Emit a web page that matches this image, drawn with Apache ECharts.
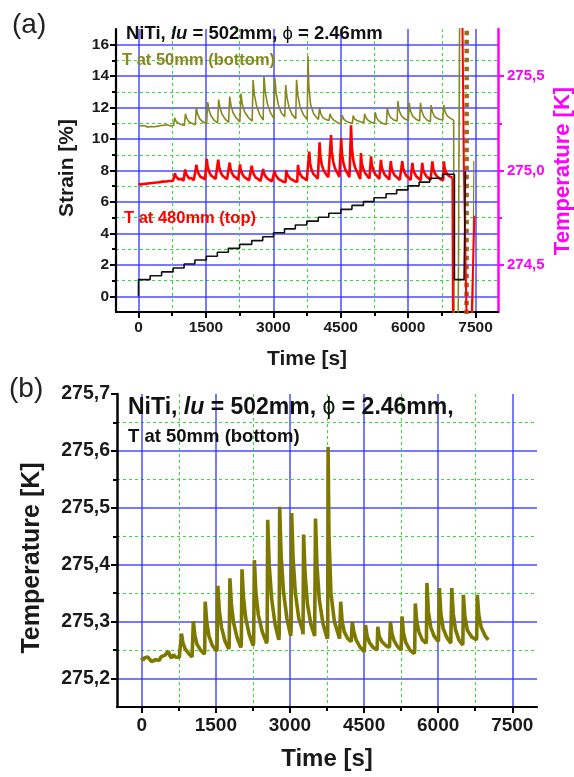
<!DOCTYPE html>
<html>
<head>
<meta charset="utf-8">
<script src="https://cdn.jsdelivr.net/npm/echarts@6/dist/echarts.min.js"></script>
<style>
html,body{margin:0;padding:0;background:#fff;}
#chart{width:574px;height:777px;}
</style>
</head>
<body>
<div id="chart"></div>
<script>
// ---- axis ticks ----
const timeTicks = [0, 1500, 3000, 4500, 6000, 7500];
const timeMinorTicks = [750, 2250, 3750, 5250, 6750];
const strainTicks = [0, 2, 4, 6, 8, 10, 12, 14, 16];
const strainMinorTicks = [1, 3, 5, 7, 9, 11, 13, 15];
const tempTicksA = [274.5, 275.0, 275.5];
const tempMinorTicksA = [274.75, 275.25];
const tempTicksB = [275.2, 275.3, 275.4, 275.5, 275.6, 275.7];
const tempGridB = [275.2, 275.3, 275.4, 275.5, 275.6];
const tempMinorTicksB = [275.25, 275.35, 275.45, 275.55, 275.65];

// ---- strain staircase (time [s], strain [%]) ----
const stepTimes = [0, 0, 260, 515, 770, 1015, 1255, 1510, 1755, 2000, 2250, 2520, 2765, 3005, 3250,
  3490, 3745, 4000, 4235, 4505, 4750, 5005, 5240, 5510, 5745, 5995, 6245, 6480, 6765, 7030];
const stepStrain = [0, 1.06, 1.31, 1.55, 1.80, 2.05, 2.31, 2.55, 2.80, 3.05, 3.30, 3.54, 3.79, 4.04, 4.29,
  4.53, 4.78, 5.03, 5.28, 5.53, 5.78, 6.02, 6.27, 6.52, 6.77, 7.02, 7.26, 7.51, 7.76, 7.76];
const strainTail = [[7030, 7.76], [7030, 1.06], [7245, 1.06], [7275, 7.95]];

// ---- temperature at 50 mm (bottom) [s, K] ----
const tBottom = [
  [0,275.237],[25,275.232],[55,275.236],[90,275.233],[120,275.238],[160,275.234],[200,275.230],[240,275.229],
  [280,275.233],[320,275.236],[355,275.232],[390,275.238],[430,275.235],[470,275.241],[505,275.239],[540,275.248],
  [570,275.240],[605,275.236],[640,275.242],[680,275.238],[720,275.236],[760,275.237],
  [785,275.240],[805,275.279],[835,275.262],[880,275.252],[950,275.244],[1020,275.238],
  [1030,275.241],[1045,275.301],[1075,275.276],[1120,275.260],[1190,275.250],[1265,275.243],
  [1275,275.248],[1285,275.335],[1315,275.300],[1360,275.275],[1430,275.258],[1515,275.248],
  [1525,275.252],[1540,275.363],[1570,275.320],[1615,275.290],[1685,275.266],[1760,275.252],
  [1770,275.256],[1785,275.376],[1815,275.330],[1860,275.298],[1930,275.272],[2005,275.255],
  [2015,275.259],[2030,275.392],[2060,275.342],[2105,275.306],[2175,275.278],[2255,275.258],
  [2265,275.263],[2280,275.408],[2310,275.352],[2360,275.312],[2440,275.282],[2530,275.262],
  [2538,275.268],[2550,275.479],[2580,275.400],[2630,275.340],[2700,275.295],[2775,275.268],
  [2782,275.275],[2792,275.502],[2822,275.415],[2870,275.352],[2940,275.305],[3015,275.275],
  [3024,275.285],[3034,275.491],[3064,275.410],[3110,275.350],[3180,275.305],[3255,275.285],
  [3265,275.278],[3276,275.453],[3306,275.385],[3355,275.330],[3425,275.295],[3500,275.275],
  [3507,275.272],[3517,275.481],[3547,275.398],[3595,275.338],[3670,275.296],[3755,275.270],
  [3764,275.275],[3772,275.607],[3790,275.450],[3830,275.350],[3900,275.300],[4005,275.270],
  [4015,275.270],[4027,275.335],[4057,275.300],[4100,275.282],[4170,275.270],[4240,275.265],
  [4250,275.266],[4262,275.300],[4292,275.282],[4340,275.268],[4420,275.255],[4505,275.247],
  [4515,275.250],[4530,275.294],[4560,275.275],[4610,275.263],[4690,275.254],[4760,275.250],
  [4765,275.254],[4778,275.291],[4808,275.274],[4860,275.265],[4940,275.258],[5015,275.255],
  [5022,275.257],[5034,275.300],[5064,275.279],[5110,275.266],[5180,275.256],[5250,275.250],
  [5258,275.252],[5268,275.309],[5298,275.280],[5345,275.263],[5430,275.250],[5515,275.244],
  [5525,275.250],[5537,275.332],[5567,275.300],[5610,275.282],[5680,275.268],[5755,275.262],
  [5762,275.266],[5772,275.368],[5802,275.318],[5850,275.290],[5920,275.274],[6005,275.265],
  [6013,275.268],[6024,275.359],[6054,275.315],[6100,275.288],[6175,275.272],[6255,275.262],
  [6263,275.265],[6275,275.359],[6305,275.314],[6350,275.286],[6420,275.268],[6495,275.259],
  [6500,275.263],[6510,275.347],[6540,275.310],[6590,275.285],[6680,275.273],[6770,275.268],
  [6780,275.272],[6792,275.347],[6822,275.312],[6870,275.290],[6950,275.275],[7013,275.268]
];
const tBottomDrop = [[7013,275.268],[7025,274.0]];
const tBottomRise = [[7110,274.0],[7150,276.0]];
const tBottomBand = [[7300,274.0],[7304,276.0]];
const tBottomLast = [[7440,274.2],[7462,275.05]];

// ---- temperature at 480 mm (top) [s, K] ----
const tTop = [
  [0,274.930],[25,274.936],[50,274.926],[80,274.933],[110,274.928],[140,274.936],[175,274.930],[210,274.938],
  [245,274.932],[280,274.940],[315,274.934],[350,274.941],[390,274.936],[425,274.944],[460,274.938],[500,274.946],
  [535,274.941],[570,274.948],[610,274.942],[650,274.950],[690,274.944],[730,274.951],[770,274.946],
  [795,274.948],[813,274.985],[830,274.968],[860,274.962],[900,274.952],[950,274.956],[1000,274.946],[1025,274.949],
  [1040,275.005],[1058,274.982],[1090,274.970],[1130,274.958],[1180,274.960],[1230,274.948],[1270,274.951],
  [1290,275.030],[1308,275.000],[1340,274.982],[1380,274.966],[1430,274.962],[1480,274.952],[1505,274.955],
  [1520,275.062],[1538,275.022],[1570,274.995],[1610,274.975],[1660,274.966],[1715,274.955],[1758,274.952],
  [1775,275.058],[1793,275.020],[1825,274.993],[1865,274.974],[1915,274.964],[1970,274.954],[2012,274.950],
  [2030,275.042],[2048,275.010],[2080,274.986],[2120,274.970],[2170,274.962],[2220,274.951],[2245,274.948],
  [2260,275.032],[2278,275.002],[2310,274.982],[2350,274.966],[2400,274.958],[2460,274.948],[2502,274.945],
  [2520,275.025],[2538,274.996],[2570,274.978],[2610,274.962],[2660,274.955],[2715,274.944],[2758,274.942],
  [2775,275.008],[2793,274.985],[2825,274.970],[2865,274.958],[2915,274.950],[2970,274.942],[3012,274.940],
  [3030,274.998],[3048,274.978],[3080,274.966],[3120,274.954],[3170,274.948],[3225,274.940],[3272,274.938],
  [3290,275.002],[3308,274.980],[3340,274.968],[3380,274.956],[3430,274.950],[3485,274.942],[3532,274.940],
  [3550,275.030],[3568,274.998],[3600,274.980],[3640,274.965],[3690,274.958],[3745,274.948],[3785,274.945],
  [3800,275.100],[3818,275.040],[3850,275.005],[3890,274.982],[3940,274.970],[3990,274.956],[4015,274.950],
  [4030,275.150],[4048,275.075],[4080,275.030],[4120,275.000],[4170,274.982],[4225,274.965],[4268,274.955],
  [4285,275.188],[4303,275.100],[4335,275.045],[4375,275.010],[4425,274.988],[4470,274.966],[4495,274.958],
  [4510,275.170],[4528,275.090],[4560,275.040],[4600,275.006],[4650,274.985],[4695,274.965],[4715,274.956],
  [4730,275.240],[4748,275.120],[4780,275.055],[4820,275.015],[4870,274.990],[4915,274.966],[4935,274.955],
  [4950,275.092],[4968,275.040],[5000,275.010],[5040,274.988],[5090,274.972],[5140,274.958],[5160,274.950],
  [5175,275.075],[5193,275.030],[5225,275.002],[5265,274.982],[5315,274.968],[5360,274.955],[5380,274.948],
  [5395,275.056],[5413,275.018],[5445,274.994],[5485,274.976],[5535,274.964],[5580,274.952],[5600,274.946],
  [5615,275.050],[5633,275.012],[5665,274.990],[5705,274.973],[5760,274.962],[5815,274.950],[5855,274.946],
  [5870,275.050],[5888,275.012],[5920,274.990],[5960,274.972],[6010,274.960],[6055,274.950],[6080,274.945],
  [6095,275.040],[6113,275.005],[6145,274.985],[6185,274.968],[6235,274.958],[6280,274.948],[6300,274.943],
  [6315,275.040],[6333,275.006],[6365,274.986],[6405,274.970],[6455,274.960],[6500,274.950],[6525,274.946],
  [6540,275.048],[6558,275.010],[6590,274.988],[6630,274.972],[6680,274.962],[6730,274.952],[6780,274.948],
  [6795,275.048],[6813,275.012],[6845,274.990],[6885,274.975],[6935,274.968],[6985,274.962]
];
const tTopDrop = [[6985,274.962],[7000,274.0]];
const tTopMid = [[7200,276.0],[7240,275.02],[7310,274.1]];
const tTopLast = [[7400,274.1],[7475,274.76]];

// ---- styling ----
const FONT = "'Liberation Sans', Arial, Helvetica, sans-serif";
const BLUE = 'rgba(45,45,255,0.85)';
const GREEN = '#33dd33';
const OLIVE_A = '#87871f';
const OLIVE_B = '#7d7800';
const MAGENTA = '#ff00ff';
const comma1 = v => v.toFixed(1).replace('.', ',');
const plain = v => String(v);

function timeAxes(grid, fontSize, margin) {
  return [
    {
      gridIndex: grid, type: 'value', position: 'bottom', min: -500, max: 8000,
      axisLine: { show: true, onZero: false, lineStyle: { color: '#000', width: 2.2 } },
      axisTick: { show: true, customValues: timeTicks, length: 6, lineStyle: { color: '#000', width: 2 } },
      axisLabel: { customValues: timeTicks, formatter: plain, fontSize: fontSize, fontWeight: 'bold', color: '#1a1a1a', margin: margin, fontFamily: FONT },
      splitLine: { show: true, lineStyle: { color: BLUE, width: 1.5 } }
    },
    {
      gridIndex: grid, type: 'value', position: 'bottom', min: -500, max: 8000,
      axisLine: { show: false, onZero: false },
      axisTick: { show: true, customValues: timeMinorTicks, length: 4, lineStyle: { color: '#000', width: 2 } },
      axisLabel: { show: false },
      splitLine: { show: true, lineStyle: { color: GREEN, width: 1, type: [3, 3] } }
    }
  ];
}

const lineBase = { type: 'line', showSymbol: false, symbol: 'none', animation: false, clip: true };

function titleRich(size) {
  return {
    n: { fontSize: size, fontWeight: 'bold', fontFamily: FONT, fill: '#111' },
    i: { fontSize: size, fontWeight: 'bold', fontStyle: 'italic', fontFamily: FONT, fill: '#111' },
    p: { fontSize: size, fontFamily: FONT, fill: '#111' }
  };
}

const option = {
  animation: false,
  backgroundColor: '#fff',
  grid: [
    { left: 116, right: 76, top: 29, bottom: 465 },
    { left: 117, right: 37, top: 394, bottom: 70 }
  ],
  xAxis: [].concat(timeAxes(0, 15.5, 8), timeAxes(1, 19, 9)),
  yAxis: [
    { // strain, major
      gridIndex: 0, type: 'value', position: 'left', min: -1, max: 17,
      axisLine: { show: true, onZero: false, lineStyle: { color: '#000', width: 2.2 } },
      axisTick: { show: true, customValues: strainTicks, length: 6, lineStyle: { color: '#000', width: 2 } },
      axisLabel: { customValues: strainTicks, fontSize: 15.5, fontWeight: 'bold', color: '#1a1a1a', margin: 7, fontFamily: FONT },
      splitLine: { show: true, lineStyle: { color: BLUE, width: 1.5 } }
    },
    { // strain, minor
      gridIndex: 0, type: 'value', position: 'left', min: -1, max: 17,
      axisLine: { show: false, onZero: false },
      axisTick: { show: true, customValues: strainMinorTicks, length: 4, lineStyle: { color: '#000', width: 2 } },
      axisLabel: { show: false },
      splitLine: { show: true, lineStyle: { color: GREEN, width: 1, type: [3, 3] } }
    },
    { // temperature, right side of panel (a)
      gridIndex: 0, type: 'value', position: 'right', min: 274.25, max: 275.75,
      axisLine: { show: true, onZero: false, lineStyle: { color: MAGENTA, width: 2.5 } },
      axisTick: { show: true, customValues: tempTicksA, length: 6, lineStyle: { color: MAGENTA, width: 2 } },
      axisLabel: { customValues: tempTicksA, formatter: comma1, fontSize: 15, fontWeight: 'bold', color: MAGENTA, margin: 9, fontFamily: FONT },
      splitLine: { show: false }
    },
    {
      gridIndex: 0, type: 'value', position: 'right', min: 274.25, max: 275.75,
      axisLine: { show: false, onZero: false },
      axisTick: { show: true, customValues: tempMinorTicksA, length: 4, lineStyle: { color: MAGENTA, width: 2 } },
      axisLabel: { show: false },
      splitLine: { show: false }
    },
    { // temperature, panel (b)
      gridIndex: 1, type: 'value', position: 'left', min: 275.15, max: 275.7,
      axisLine: { show: true, onZero: false, lineStyle: { color: '#000', width: 2.5 } },
      axisTick: { show: true, customValues: tempTicksB, length: 6, lineStyle: { color: '#000', width: 2 } },
      axisLabel: { customValues: tempTicksB, formatter: comma1, fontSize: 19.5, fontWeight: 'bold', color: '#1a1a1a', margin: 7, fontFamily: FONT },
      splitLine: { show: false }
    },
    {
      gridIndex: 1, type: 'value', position: 'left', min: 275.15, max: 275.7,
      axisLine: { show: false, onZero: false },
      axisTick: { show: false, customValues: tempGridB },
      axisLabel: { show: false },
      splitLine: { show: true, lineStyle: { color: BLUE, width: 1.5 } }
    },
    {
      gridIndex: 1, type: 'value', position: 'left', min: 275.15, max: 275.7,
      axisLine: { show: false, onZero: false },
      axisTick: { show: true, customValues: tempMinorTicksB, length: 4, lineStyle: { color: '#000', width: 2 } },
      axisLabel: { show: false },
      splitLine: { show: true, lineStyle: { color: GREEN, width: 1, type: [3, 3] } }
    }
  ],
  series: [
    Object.assign({}, lineBase, { name: 'T at 50mm (bottom)', xAxisIndex: 0, yAxisIndex: 2, data: tBottom, lineStyle: { color: OLIVE_A, width: 1.6 } }),
    Object.assign({}, lineBase, { xAxisIndex: 0, yAxisIndex: 2, data: tBottomDrop, lineStyle: { color: OLIVE_A, width: 1.6 } }),
    Object.assign({}, lineBase, { xAxisIndex: 0, yAxisIndex: 2, data: tBottomRise, lineStyle: { color: OLIVE_A, width: 1.6 } }),
    Object.assign({}, lineBase, { xAxisIndex: 0, yAxisIndex: 2, data: tBottomBand, lineStyle: { color: '#9a6a20', width: 4.5, type: 'dotted' } }),
    Object.assign({}, lineBase, { xAxisIndex: 0, yAxisIndex: 2, data: tBottomLast, lineStyle: { color: OLIVE_A, width: 1.2 } }),
    Object.assign({}, lineBase, { name: 'T at 480mm (top)', xAxisIndex: 0, yAxisIndex: 2, data: tTop, lineStyle: { color: '#ff0000', width: 2.6 } }),
    Object.assign({}, lineBase, { xAxisIndex: 0, yAxisIndex: 2, data: tTopDrop, lineStyle: { color: '#ff0000', width: 2 } }),
    Object.assign({}, lineBase, { xAxisIndex: 0, yAxisIndex: 2, data: tTopMid, lineStyle: { color: '#ff0000', width: 2 } }),
    Object.assign({}, lineBase, { xAxisIndex: 0, yAxisIndex: 2, data: tTopLast, lineStyle: { color: '#ff0000', width: 2 } }),
    Object.assign({}, lineBase, { name: 'Strain', xAxisIndex: 0, yAxisIndex: 0, step: 'end',
      data: stepTimes.map((t, i) => [t, stepStrain[i]]), lineStyle: { color: '#111', width: 1.6 } }),
    Object.assign({}, lineBase, { xAxisIndex: 0, yAxisIndex: 0, data: strainTail, lineStyle: { color: '#111', width: 1.6 } }),
    Object.assign({}, lineBase, { name: 'T at 50mm (bottom) b', xAxisIndex: 2, yAxisIndex: 4, data: tBottom, lineStyle: { color: OLIVE_B, width: 3.6 } })
  ],
  graphic: [
    { type: 'text', x: 12, y: 25, z: 100, style: { text: '(a)', font: '28px ' + FONT, fill: '#222', textVerticalAlign: 'middle', verticalAlign: 'middle' } },
    { type: 'text', x: 9, y: 389, z: 100, style: { text: '(b)', font: '28px ' + FONT, fill: '#222', textVerticalAlign: 'middle', verticalAlign: 'middle' } },
    { type: 'text', x: 126, y: 34, z: 100, style: {
        text: '{n|NiTi, }{i|lu}{n| = 502mm, }{p|ϕ}{n| = 2.46mm}',
        textVerticalAlign: 'middle', verticalAlign: 'middle', rich: titleRich(18.5) } },
    { type: 'text', x: 122, y: 60, z: 100, style: { text: 'T at 50mm (bottom)', font: 'bold 16.5px ' + FONT, fill: OLIVE_A, textVerticalAlign: 'middle', verticalAlign: 'middle' } },
    { type: 'text', x: 124, y: 218, z: 100, style: { text: 'T at 480mm (top)', font: 'bold 16.5px ' + FONT, fill: '#ff0000', textVerticalAlign: 'middle', verticalAlign: 'middle' } },
    { type: 'text', x: 128, y: 408, z: 100, style: {
        text: '{n|NiTi, }{i|lu}{n| = 502mm, }{p|ϕ}{n| = 2.46mm,}',
        textVerticalAlign: 'middle', verticalAlign: 'middle', rich: titleRich(23) } },
    { type: 'text', x: 128, y: 437, z: 100, style: { text: 'T at 50mm (bottom)', font: 'bold 18.5px ' + FONT, fill: '#111', textVerticalAlign: 'middle', verticalAlign: 'middle' } },
    { type: 'text', x: 67, y: 168, rotation: Math.PI / 2, z: 100, style: { text: 'Strain [%]', font: 'bold 21px ' + FONT, fill: '#1a1a1a', textAlign: 'center', align: 'center', textVerticalAlign: 'middle', verticalAlign: 'middle' } },
    { type: 'text', x: 563, y: 171, rotation: Math.PI / 2, z: 100, style: { text: 'Temperature [K]', font: 'bold 22px ' + FONT, fill: MAGENTA, textAlign: 'center', align: 'center', textVerticalAlign: 'middle', verticalAlign: 'middle' } },
    { type: 'text', x: 307, y: 359, z: 100, style: { text: 'Time [s]', font: 'bold 21px ' + FONT, fill: '#1a1a1a', textAlign: 'center', align: 'center', textVerticalAlign: 'middle', verticalAlign: 'middle' } },
    { type: 'text', x: 327, y: 759, z: 100, style: { text: 'Time [s]', font: 'bold 24px ' + FONT, fill: '#1a1a1a', textAlign: 'center', align: 'center', textVerticalAlign: 'middle', verticalAlign: 'middle' } },
    { type: 'text', x: 32, y: 558, rotation: Math.PI / 2, z: 100, style: { text: 'Temperature [K]', font: 'bold 25px ' + FONT, fill: '#1a1a1a', textAlign: 'center', align: 'center', textVerticalAlign: 'middle', verticalAlign: 'middle' } }
  ]
};

const chart = echarts.init(document.getElementById('chart'), null, { renderer: 'canvas', width: 574, height: 777 });
chart.setOption(option);
</script>
</body>
</html>
